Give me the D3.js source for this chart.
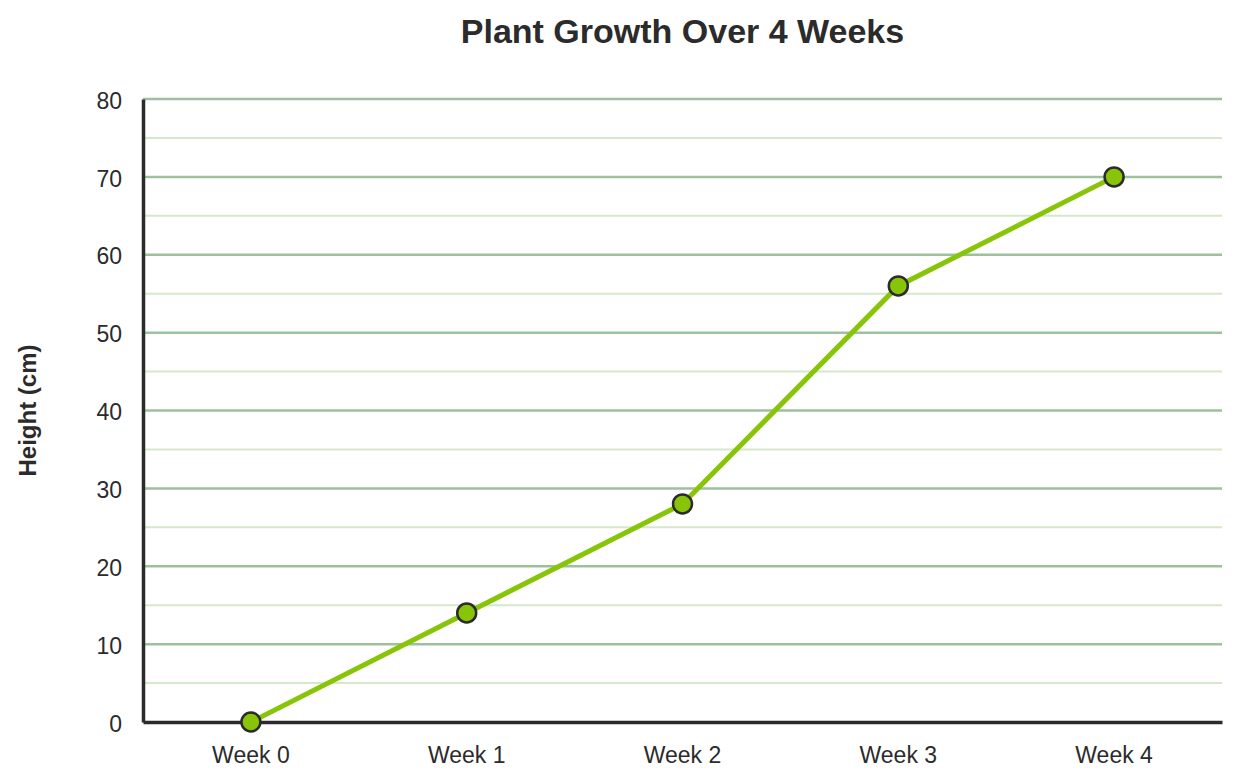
<!DOCTYPE html>
<html>
<head>
<meta charset="utf-8">
<script src="https://cdn.jsdelivr.net/npm/d3@7"></script>
<style>
  body { margin: 0; background: #fff; }
  text { font-family: "Liberation Sans", Arial, sans-serif; fill: #2b2b2b; }
</style>
</head>
<body>
<div id="chart"></div>
<script>
// data
const weeks = ["Week 0", "Week 1", "Week 2", "Week 3", "Week 4"];
const heights = [0, 14, 28, 56, 70];
const yTicks = [0, 10, 20, 30, 40, 50, 60, 70, 80];
const minorTicks = [5, 15, 25, 35, 45, 55, 65, 75];

const width = 1241;
const height = 781;
const margin = {top: 99, right: 19, bottom: 59, left: 143};

const svg = d3.select("#chart")
  .append("svg")
    .attr("width", width)
    .attr("height", height);

const x = d3.scaleBand()
  .domain(weeks)
  .range([margin.left, width - margin.right]);

const y = d3.scaleLinear()
  .domain([0, 80])
  .range([height - margin.bottom, margin.top]);

// minor grid
svg.append("g")
  .selectAll("line")
  .data(minorTicks)
  .join("line")
    .attr("x1", margin.left)
    .attr("x2", width - margin.right)
    .attr("y1", d => y(d))
    .attr("y2", d => y(d))
    .attr("stroke", "#d5e8cb")
    .attr("stroke-width", 2);

// major grid
svg.append("g")
  .selectAll("line")
  .data(yTicks.slice(1))
  .join("line")
    .attr("x1", margin.left)
    .attr("x2", width - margin.right)
    .attr("y1", d => y(d))
    .attr("y2", d => y(d))
    .attr("stroke", "#9dc19d")
    .attr("stroke-width", 2.5);

// y axis
const yAxis = svg.append("g")
  .attr("transform", `translate(${margin.left},0)`)
  .call(d3.axisLeft(y).tickValues(yTicks).tickSize(0).tickPadding(21));
yAxis.select(".domain").attr("stroke", "#2b2b2b").attr("stroke-width", 3.5);
yAxis.selectAll("text").attr("font-size", 23).attr("fill", "#2b2b2b").attr("dy", "0.4em")
  .style("font-family", "'Liberation Sans', Arial, sans-serif");

// x axis
const xAxis = svg.append("g")
  .attr("transform", `translate(0,${y(0)})`)
  .call(d3.axisBottom(x).tickSize(0).tickPadding(25));
xAxis.select(".domain").attr("stroke", "#2b2b2b").attr("stroke-width", 3.5);
xAxis.selectAll("text").attr("font-size", 23).attr("fill", "#2b2b2b")
  .style("font-family", "'Liberation Sans', Arial, sans-serif");

// line
const line = d3.line()
  .x((d, i) => x(weeks[i]) + x.bandwidth() / 2)
  .y(d => y(d));

svg.append("path")
  .datum(heights)
  .attr("fill", "none")
  .attr("stroke", "#88c508")
  .attr("stroke-width", 5)
  .attr("d", line);

svg.append("g")
  .selectAll("circle")
  .data(heights)
  .join("circle")
    .attr("cx", (d, i) => x(weeks[i]) + x.bandwidth() / 2)
    .attr("cy", d => y(d))
    .attr("r", 9.5)
    .attr("fill", "#88c508")
    .attr("stroke", "#2b2b2b")
    .attr("stroke-width", 2.5);

// title
svg.append("text")
  .attr("x", (margin.left + width - margin.right) / 2)
  .attr("y", 43)
  .attr("text-anchor", "middle")
  .attr("font-size", 34)
  .attr("font-weight", "bold")
  .text("Plant Growth Over 4 Weeks");

// y label
svg.append("text")
  .attr("transform", `translate(36,${(margin.top + height - margin.bottom) / 2}) rotate(-90)`)
  .attr("text-anchor", "middle")
  .attr("font-size", 24)
  .attr("font-weight", "bold")
  .text("Height (cm)");
</script>
</body>
</html>
